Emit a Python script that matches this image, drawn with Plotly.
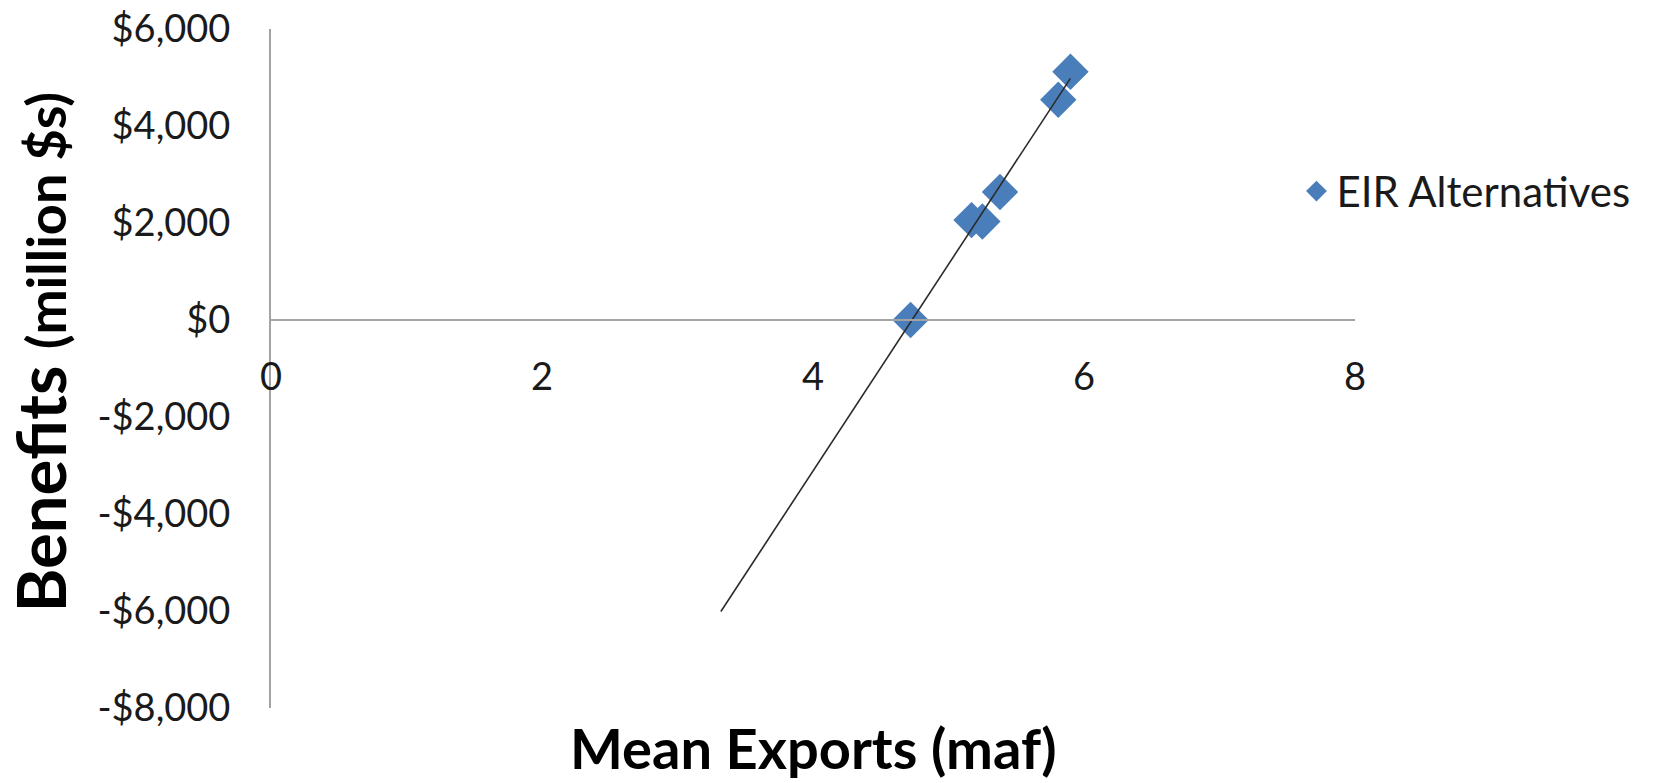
import numpy as np
import plotly.graph_objects as go

# EIR alternatives: mean exports (maf) vs. benefits (million $)
mean_exports = [4.72, 5.17, 5.25, 5.38, 5.81, 5.90]
benefits = [0, 2060, 2030, 2640, 4540, 5120]

# linear trendline, projected backward by this many maf
trend_backward = 1.4

x_tick_vals = [0, 2, 4, 6, 8]
y_tick_vals = [6000, 4000, 2000, 0, -2000, -4000, -6000, -8000]
y_tick_text = ["$6,000", "$4,000", "$2,000", "$0", "-$2,000", "-$4,000", "-$6,000", "-$8,000"]

X_RANGE = [0, 8]
Y_RANGE = [-8000, 6000]

FONT = "Lato"
AXIS_GRAY = "#a3a3a3"
MARKER_BLUE = "#4a7ebb"

slope, intercept = np.polyfit(mean_exports, benefits, 1)
trend_x = np.array([min(mean_exports) - trend_backward, max(mean_exports)])
trend_y = slope * trend_x + intercept

fig = go.Figure()

fig.add_trace(go.Scatter(
    x=mean_exports, y=benefits,
    mode="markers",
    name="EIR Alternatives",
    marker=dict(symbol="diamond", size=28, color=MARKER_BLUE, line=dict(width=0)),
))

fig.add_trace(go.Scatter(
    x=trend_x, y=trend_y,
    mode="lines",
    line=dict(color="#2b2b2b", width=1.6),
    showlegend=False,
    hoverinfo="skip",
))

# the x axis crosses the y axis at zero
zero_pos = (0 - Y_RANGE[0]) / (Y_RANGE[1] - Y_RANGE[0])

fig.update_layout(
    width=1661, height=783,
    margin=dict(l=271, r=306, t=29, b=75, autoexpand=False),
    paper_bgcolor="white", plot_bgcolor="white",
    font=dict(family=FONT, color="#1a1a1a"),
    showlegend=True,
    legend=dict(
        x=0.946, y=0.761, xanchor="left", yanchor="middle",
        font=dict(family=FONT, size=42, color="#1a1a1a"),
        bgcolor="rgba(0,0,0,0)",
    ),
    xaxis=dict(
        range=X_RANGE,
        tickvals=x_tick_vals,
        anchor="free", position=zero_pos,
        showline=True, linecolor=AXIS_GRAY, linewidth=2,
        showgrid=False, zeroline=False,
        ticks="", ticklabelstandoff=23,
        tickfont=dict(family=FONT, size=38, color="#1a1a1a"),
    ),
    yaxis=dict(
        range=Y_RANGE,
        tickvals=y_tick_vals, ticktext=y_tick_text,
        showline=True, linecolor=AXIS_GRAY, linewidth=2,
        showgrid=False, zeroline=False,
        ticks="", ticklabelstandoff=31,
        tickfont=dict(family=FONT, size=38, color="#1a1a1a"),
        title=dict(
            text="&nbsp;&nbsp;Benefits <span style='font-size:54px'>(million $s)</span>",
            font=dict(family=FONT, size=67, weight="bold", color="#000000"),
            standoff=14,
        ),
    ),
    annotations=[dict(
        text="Mean Exports (maf)",
        xref="paper", yref="paper",
        x=0.5, y=-0.058, xanchor="center", yanchor="middle",
        showarrow=False,
        font=dict(family=FONT, size=56, weight="bold", color="#000000"),
    )],
)

fig.write_html("out.html")
